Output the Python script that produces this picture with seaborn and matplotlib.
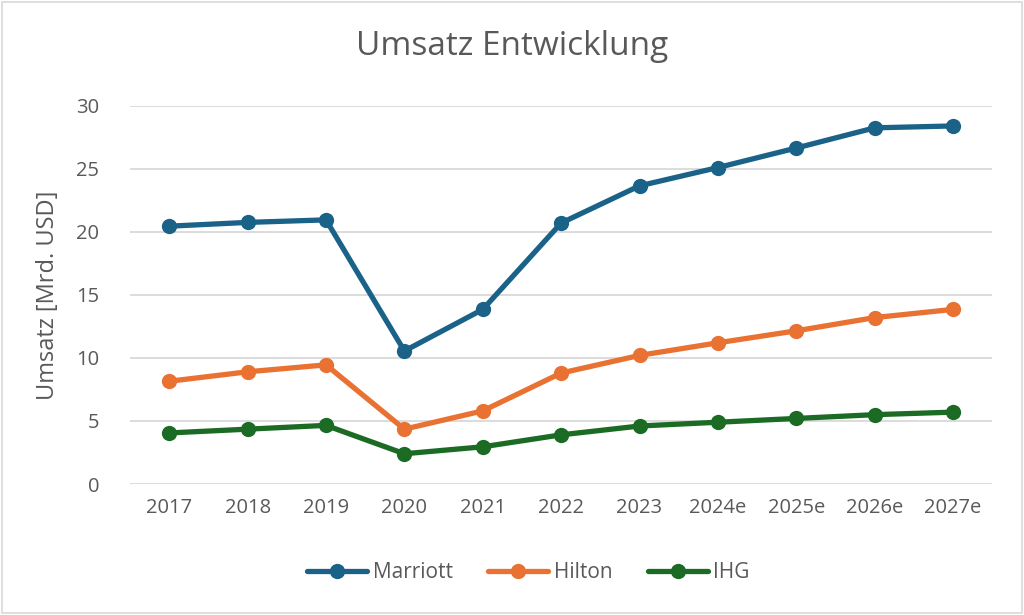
import matplotlib.pyplot as plt
import pandas as pd
import seaborn as sns
from matplotlib.patches import Rectangle

# Data
years = ['2017', '2018', '2019', '2020', '2021', '2022', '2023',
         '2024e', '2025e', '2026e', '2027e']
marriott = [20.45, 20.75, 20.95, 10.55, 13.85, 20.7, 23.65, 25.1, 26.65, 28.25, 28.4]
hilton = [8.15, 8.9, 9.45, 4.35, 5.8, 8.8, 10.2, 11.2, 12.15, 13.2, 13.85]
ihg = [4.05, 4.35, 4.65, 2.4, 2.95, 3.9, 4.6, 4.9, 5.2, 5.5, 5.7]

series = {'Marriott': marriott, 'Hilton': hilton, 'IHG': ihg}
colors = {'Marriott': '#1a6287', 'Hilton': '#e97132', 'IHG': '#1b6b25'}

df = pd.DataFrame([
    {'Jahr': y, 'Umsatz': v, 'Firma': name}
    for name, vals in series.items()
    for y, v in zip(years, vals)
])

sns.set_style('white')
plt.rcParams['font.family'] = ['Open Sans', 'DejaVu Sans']
text_col = '#595959'

fig = plt.figure(figsize=(10.24, 6.15), dpi=100)
ax = fig.add_axes([0.127, 0.213, 0.842, 0.615])

sns.lineplot(data=df, x='Jahr', y='Umsatz', hue='Firma', palette=colors,
             marker='o', markersize=11, markeredgewidth=0, linewidth=3.8,
             sort=False, ax=ax, zorder=3)

ax.set_ylim(0, 30)
ax.set_xlim(-0.5, len(years) - 0.5)
ax.set_yticks(range(0, 31, 5))
ax.yaxis.grid(True, color='#d9d9d9', linewidth=1.3)
ax.xaxis.grid(False)
for s in ax.spines.values():
    s.set_visible(False)
ax.tick_params(axis='both', length=0, labelsize=14.5, colors=text_col, pad=10)
ax.tick_params(axis='y', pad=22)

ax.set_xlabel('')
ax.set_ylabel('Umsatz [Mrd. USD]', fontsize=17, color=text_col, labelpad=12)
fig.text(0.5, 0.925, 'Umsatz Entwicklung', ha='center', va='center',
         fontsize=24, color=text_col)

leg = ax.legend(loc='center', bbox_to_anchor=(0.462, -0.235), ncol=3,
                frameon=False, fontsize=15, handlelength=2.9,
                columnspacing=1.7, handletextpad=0.25)
for t in leg.get_texts():
    t.set_color(text_col)

fig.patches.append(Rectangle((0.002, 0.003), 0.996, 0.994, transform=fig.transFigure,
                             fill=False, edgecolor='#d9d9d9', linewidth=1.2))

fig.savefig('out.png', dpi=100, facecolor='white')
